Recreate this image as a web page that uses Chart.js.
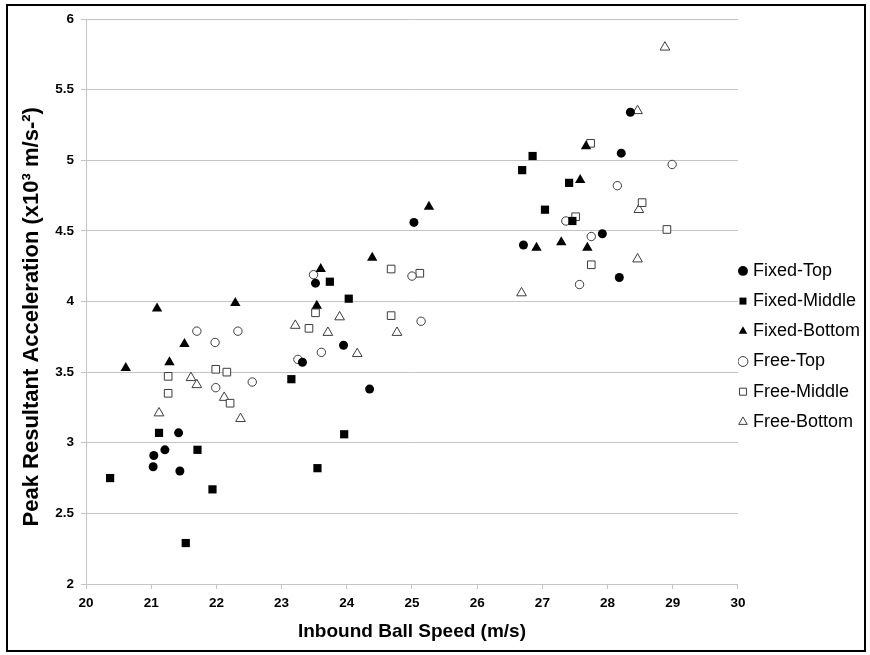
<!DOCTYPE html>
<html>
<head>
<meta charset="utf-8">
<title>Peak Resultant Acceleration vs Inbound Ball Speed</title>
<script src="https://cdn.jsdelivr.net/npm/chart.js@4.4.1/dist/chart.umd.min.js"></script>
<style>
  html, body { margin: 0; padding: 0; background: #fff; }
</style>
</head>
<body>
<canvas id="chart" width="870" height="655"></canvas>
<script>
(function () {
  'use strict';

  // [inbound speed m/s, peak acceleration x10^3 m/s^2]
  const fixedTop = [
    [21.04, 2.91], [21.03, 2.83], [21.21, 2.95], [21.42, 3.07], [21.44, 2.80],
    [23.32, 3.57], [23.52, 4.13], [23.95, 3.69], [24.35, 3.38], [25.03, 4.56],
    [26.71, 4.40], [27.92, 4.48], [28.21, 5.05], [28.35, 5.34], [28.18, 4.17],
  ];
  const fixedMiddle = [
    [20.37, 2.75], [21.12, 3.07], [21.71, 2.95], [21.94, 2.67], [21.53, 2.29],
    [23.15, 3.45], [23.55, 2.82], [23.96, 3.06], [23.74, 4.14], [24.03, 4.02],
    [26.69, 4.93], [26.85, 5.03], [27.04, 4.65], [27.41, 4.84], [27.46, 4.57],
  ];
  const fixedBottom = [
    [20.61, 3.53], [21.09, 3.95], [21.28, 3.57], [21.51, 3.70], [22.29, 3.99],
    [23.54, 3.97], [23.60, 4.23], [24.39, 4.31], [25.26, 4.67], [26.91, 4.38],
    [27.29, 4.42], [27.58, 4.86], [27.67, 5.10], [27.69, 4.38],
  ];
  const freeTop = [
    [21.70, 3.79], [21.98, 3.71], [22.33, 3.79], [21.99, 3.39], [22.55, 3.43],
    [23.25, 3.59], [23.49, 4.19], [23.61, 3.64], [25.00, 4.18], [25.14, 3.86],
    [27.36, 4.57], [27.57, 4.12], [27.75, 4.46], [28.15, 4.82], [28.99, 4.97],
  ];
  const freeMiddle = [
    [21.26, 3.47], [21.26, 3.35], [21.99, 3.52], [22.16, 3.50], [22.21, 3.28],
    [23.42, 3.81], [23.52, 3.92], [24.68, 4.23], [24.68, 3.90], [25.12, 4.20],
    [27.51, 4.60], [27.74, 5.12], [27.75, 4.26], [28.53, 4.70], [28.91, 4.51],
  ];
  const freeBottom = [
    [21.12, 3.21], [21.61, 3.46], [21.70, 3.41], [22.12, 3.32], [22.37, 3.17],
    [23.21, 3.83], [23.71, 3.78], [23.89, 3.89], [24.16, 3.63], [24.77, 3.78],
    [26.68, 4.06], [28.46, 4.30], [28.48, 4.65], [28.46, 5.35], [28.88, 5.80],
  ];

  const seriesNames = ['Fixed-Top', 'Fixed-Middle', 'Fixed-Bottom', 'Free-Top', 'Free-Middle', 'Free-Bottom'];
  const seriesData = [fixedTop, fixedMiddle, fixedBottom, freeTop, freeMiddle, freeBottom];

  const X_RANGE = [20, 30];
  const Y_RANGE = [2, 6];
  const X_STEP = 1;
  const Y_STEP = 0.5;

  // marker looks
  const SHAPES = ['circle', 'rect', 'triangle', 'circle', 'rect', 'triangle'];
  const RADII = [4.5, 5.8, 6, 4.2, 5.4, 5.6];
  const FILLED = [true, true, true, false, false, false];

  const FONT = '"Liberation Sans", Arial, sans-serif';
  const GRID = '#c4c4c4';
  const OPEN_EDGE = '#3c3c3c';

  const datasets = seriesNames.map((name, i) => ({
    label: name,
    data: seriesData[i].map(p => ({ x: p[0], y: p[1] })),
    pointStyle: SHAPES[i],
    pointRadius: RADII[i],
    pointHoverRadius: RADII[i],
    backgroundColor: FILLED[i] ? '#000' : '#fff',
    borderColor: FILLED[i] ? '#000' : OPEN_EDGE,
    borderWidth: FILLED[i] ? 0 : 1,
  }));

  const frame = {
    id: 'frame',
    afterDraw(chart) {
      const c = chart.ctx;
      c.save();
      c.strokeStyle = '#000';
      c.lineWidth = 2;
      c.strokeRect(7, 5, 858, 646);
      c.restore();
    },
  };

  Chart.defaults.font.family = FONT;

  new Chart(document.getElementById('chart'), {
    type: 'scatter',
    data: { datasets },
    plugins: [frame],
    options: {
      responsive: false,
      animation: false,
      layout: { padding: { left: 19, top: 19, right: 0, bottom: 0 } },
      plugins: {
        tooltip: { enabled: false },
        legend: {
          position: 'right',
          align: 'start',
          // empty title only pushes the entries down to where the original sits
          title: { display: true, text: '', font: { size: 12, lineHeight: 1.2 }, padding: { top: 224.5, bottom: 0 } },
          labels: {
            usePointStyle: true,
            boxWidth: 2,
            boxHeight: 7,
            padding: 4,
            color: '#000',
            font: { size: 18, lineHeight: 26.2 / 18 },
            generateLabels(chart) {
              const items = Chart.defaults.plugins.legend.labels.generateLabels(chart);
              return items.map(it => Object.assign(it, { text: [it.text] }));
            },
          },
        },
      },
      scales: {
        x: {
          type: 'linear',
          min: X_RANGE[0],
          max: X_RANGE[1],
          ticks: { stepSize: X_STEP, color: '#000', font: { size: 13.5, weight: 'bold' }, padding: 6 },
          grid: { drawOnChartArea: false, tickLength: 5, color: GRID },
          border: { color: GRID },
          title: {
            display: true,
            text: 'Inbound Ball Speed (m/s)',
            color: '#000',
            font: { size: 19, weight: 'bold' },
            padding: { top: 0, bottom: 12 },
          },
          afterFit(s) { s.height = 71; },
        },
        y: {
          min: Y_RANGE[0],
          max: Y_RANGE[1],
          ticks: {
            stepSize: Y_STEP,
            color: '#000',
            font: { size: 13.5, weight: 'bold' },
            padding: 7,
            callback: v => String(v),
          },
          grid: { color: GRID, tickLength: 5 },
          border: { color: GRID },
          title: {
            display: true,
            text: 'Peak Resultant Acceleration (x10³ m/s-²)     ',
            color: '#000',
            font: { size: 22, weight: 'bold' },
            padding: { top: 0, bottom: 0 },
          },
          afterFit(s) { s.width = 67; },
        },
      },
    },
  });
})();
</script>
</body>
</html>
